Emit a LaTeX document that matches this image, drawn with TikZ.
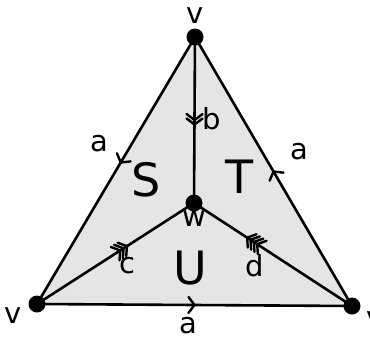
\documentclass[tikz,border=0pt]{standalone}
\usepackage{fontspec}
\setmainfont{DejaVu Sans}
\usetikzlibrary{decorations.markings}
\begin{document}
\begin{tikzpicture}[x=1pt,y=-1pt,
  edge/.style={line width=2.6pt},
  dot/.style={circle,fill=black,inner sep=0pt,minimum size=17pt},
  lbl/.style={font=\fontsize{29}{29}\selectfont},
  face/.style={font=\fontsize{46}{46}\selectfont},
  chevline/.style={line width=2.4pt,line cap=round,line join=round},
  mk/.style n args={3}{postaction={decorate},decoration={markings,mark=at position #1 with {\foreach \k in {1,...,#2}{\draw[chevline] ({(\k-1)*#3-6pt},8pt) -- ({(\k-1)*#3},0pt) -- ({(\k-1)*#3-6pt},-8pt);}}}}]
\useasboundingbox (0,0) rectangle (370,341);
\coordinate (Ac) at (195,37);
\coordinate (Bc) at (37,304);
\coordinate (Cc) at (352,306);
\coordinate (Wc) at (194,203);
\fill[gray!20] (Ac) -- (Bc) -- (Cc) -- cycle;
\draw[edge,mk={0.47}{1}{4pt}] (Ac) -- (Bc);
\draw[edge,mk={0.5}{1}{4pt}] (Cc) -- (Ac);
\draw[edge,mk={0.5}{1}{4pt}] (Bc) -- (Cc);
\draw[edge,mk={0.5}{2}{4.5pt}] (Ac) -- (Wc);
\draw[edge,mk={0.53}{3}{4pt}] (Bc) -- (Wc);
\draw[edge,mk={0.6}{4}{4pt}] (Cc) -- (Wc);
\node[dot] (A) at (Ac) {};
\node[dot] (B) at (Bc) {};
\node[dot] (C) at (Cc) {};
\node[dot] (W) at (Wc) {};
\node[lbl] (lA) at (195,16) {v};
\node[lbl] (lB) at (13,316) {v};
\node[lbl] (lC) at (375,320) {v};
\node[lbl] (lW) at (194,219) {w};
\node[lbl] (la1) at (99,144) {a};
\node[lbl] (la2) at (299,152) {a};
\node[lbl] (la3) at (188,326) {a};
\node[lbl] (lb) at (212,119) {b};
\node[lbl] (lc) at (127,266) {c};
\node[lbl] (ld) at (255,266) {d};
\node[face] (S) at (146,180) {S};
\node[face] (T) at (240,177) {T};
\node[face] (U) at (190,268) {U};
\end{tikzpicture}
\end{document}
